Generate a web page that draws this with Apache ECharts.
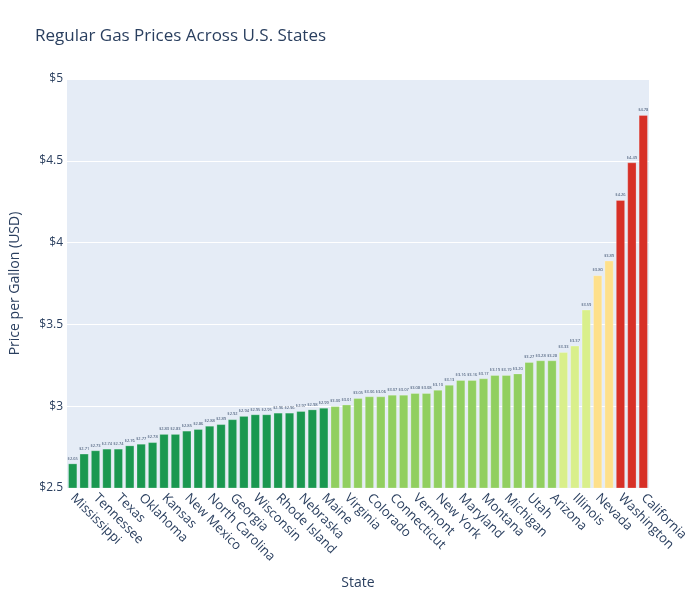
<!DOCTYPE html>
<html><head><meta charset="utf-8">
<script src="https://cdn.jsdelivr.net/npm/echarts@6/dist/echarts.min.js"></script>
<style>html,body{margin:0;padding:0;background:#fff}#c{width:700px;height:600px}</style>
</head><body><div id="c"></div>
<script>
const states = ["Mississippi","Louisiana","Tennessee","Arkansas","Texas","Alabama","Oklahoma","South Carolina","Kansas","Missouri",
"New Mexico","Kentucky","North Carolina","Iowa","Georgia","Ohio","Wisconsin","Indiana","Rhode Island","Delaware",
"Nebraska","New Hampshire","Maine","South Dakota","Virginia","Minnesota","Colorado","West Virginia","Connecticut","Massachusetts",
"Vermont","North Dakota","New York","Wyoming","Maryland","New Jersey","Montana","Florida","Michigan","District of Columbia",
"Utah","Pennsylvania","Arizona","Idaho","Illinois","Alaska","Nevada","Oregon","Washington","Hawaii","California"];
const prices = [2.65,2.71,2.73,2.74,2.74,2.76,2.77,2.78,2.83,2.83,
2.85,2.86,2.88,2.89,2.92,2.94,2.95,2.95,2.96,2.96,
2.97,2.98,2.99,3.00,3.01,3.05,3.06,3.06,3.07,3.07,
3.08,3.08,3.10,3.13,3.16,3.16,3.17,3.19,3.19,3.20,
3.27,3.28,3.28,3.33,3.37,3.59,3.80,3.89,4.26,4.49,4.78];
const yTicks = [2.5,3,3.5,4,4.5,5];

function colorFor(v){
  if (v < 3.0) return '#1a9850';
  if (v < 3.3) return '#91cf60';
  if (v < 3.7) return '#d9ef8b';
  if (v < 4.0) return '#fee08b';
  return '#d73027';
}
const chart = echarts.init(document.getElementById('c'));
const fam = '"Open Sans", sans-serif';
chart.setOption({
  backgroundColor:'#fff',
  textStyle:{fontFamily:fam},
  title:{text:'Regular Gas Prices Across U.S. States',left:35,top:28,padding:0,textStyle:{fontFamily:fam,fontSize:17,fontWeight:'normal',color:'#2a3f5f'}},
  grid:{left:65,right:51,top:79,bottom:112,backgroundColor:'#E5ECF6',show:true,borderWidth:0},
  xAxis:{type:'category',data:states,
    axisLine:{show:false},axisTick:{show:false},
    axisLabel:{interval:1,rotate:-45,color:'#2a3f5f',fontSize:13,fontFamily:fam,margin:8},
    name:'State',nameLocation:'middle',nameGap:88,nameTextStyle:{fontSize:14,color:'#2a3f5f',fontFamily:fam}},
  yAxis:{type:'value',min:yTicks[0],max:yTicks[yTicks.length-1],interval:0.5,
    axisLine:{show:false},axisTick:{show:false},
    splitLine:{lineStyle:{color:'#fff',width:1}},
    axisLabel:{color:'#2a3f5f',fontSize:12,fontFamily:fam,margin:4,formatter:v=>'$'+(+v.toFixed(1)).toString()},
    name:'Price per Gallon (USD)',nameLocation:'middle',nameGap:45,nameTextStyle:{fontSize:14,color:'#2a3f5f',fontFamily:fam}},
  series:[{type:'bar',barCategoryGap:'20%',
    data:prices.map(v=>({value:v,itemStyle:{color:colorFor(v)}})),
    itemStyle:{borderColor:'rgba(255,255,255,0.3)',borderWidth:0.8},
    label:{show:true,position:'top',distance:3,fontSize:4,color:'#2a3f5f',fontFamily:fam,formatter:p=>'$'+p.value.toFixed(2)}
  }]
});
</script></body></html>
